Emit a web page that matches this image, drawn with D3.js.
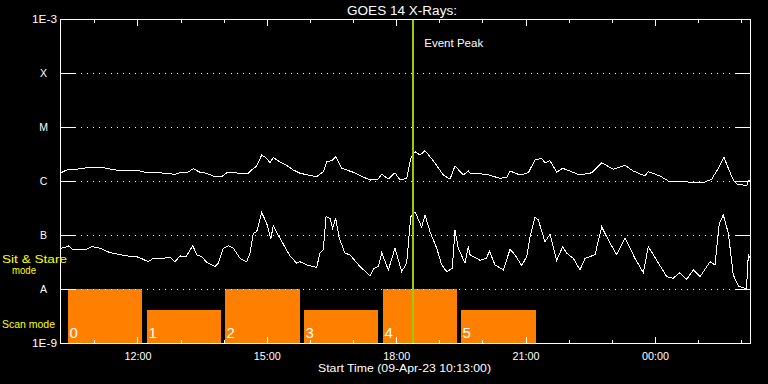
<!DOCTYPE html>
<html><head><meta charset="utf-8">
<script src="https://cdn.jsdelivr.net/npm/d3@7"></script>
<style>
html,body{margin:0;padding:0;background:#000;}
svg{display:block;}
text{font-family:"Liberation Sans",Arial,sans-serif;}
line,rect,path{shape-rendering:crispEdges;}
</style></head>
<body>
<svg id="chart" width="768" height="384"></svg>
<script>
// ---- data ----
const startTime = Date.UTC(2023, 3, 9, 10, 13, 0);
const durationHours = 16;
const eventPeakHour = 8.19;

// long channel (1-8 A), hours since start, flux W/m^2
const longHours = [0.000,0.155,0.387,0.696,0.967,1.275,1.855,2.010,2.319,2.667,2.783,2.938,3.091,3.246,3.402,3.594,3.750,3.865,4.019,4.213,4.367,4.445,4.561,4.677,4.793,4.870,4.946,5.062,5.257,5.410,5.565,5.952,6.106,6.184,6.300,6.393,6.532,6.801,7.188,7.381,7.460,7.613,7.768,7.884,8.039,8.132,8.232,8.348,8.464,8.656,8.888,9.043,9.159,9.352,9.468,9.507,9.894,10.203,10.358,10.435,10.667,10.859,11.014,11.170,11.246,11.362,11.518,11.657,12.058,12.329,12.561,12.830,13.101,13.294,13.565,13.642,13.913,14.106,14.532,14.917,15.112,15.265,15.397,15.497,15.613,15.692,15.923,15.961,16.000];
const longFlux = [1.39e-6,1.60e-6,1.65e-6,1.79e-6,1.79e-6,1.60e-6,1.53e-6,1.42e-6,1.42e-6,1.33e-6,1.42e-6,1.41e-6,1.69e-6,1.45e-6,1.39e-6,1.19e-6,1.20e-6,1.42e-6,1.45e-6,1.35e-6,1.39e-6,1.60e-6,1.90e-6,3.03e-6,2.63e-6,2.18e-6,2.75e-6,2.35e-6,1.95e-6,1.60e-6,1.39e-6,1.20e-6,1.49e-6,2.28e-6,2.38e-6,2.82e-6,1.72e-6,1.45e-6,1.04e-6,1.09e-6,1.33e-6,1.09e-6,1.42e-6,1.04e-6,1.12e-6,2.63e-6,3.49e-6,3.03e-6,3.64e-6,2.38e-6,1.29e-6,1.08e-6,1.90e-6,1.29e-6,1.53e-6,1.39e-6,1.33e-6,1.12e-6,1.17e-6,1.53e-6,1.29e-6,1.42e-6,2.45e-6,2.63e-6,2.18e-6,2.38e-6,1.45e-6,1.72e-6,1.29e-6,1.42e-6,2.18e-6,1.65e-6,1.95e-6,1.53e-6,1.24e-6,1.49e-6,1.24e-6,1.00e-6,0.96e-6,0.93e-6,1.08e-6,1.72e-6,2.75e-6,1.72e-6,1.04e-6,0.88e-6,0.82e-6,1.01e-6,1.04e-6];

// short channel (0.5-4 A)
const shortHours = [0.000,0.116,0.192,0.308,0.580,0.735,0.928,1.159,1.547,1.816,2.048,2.163,2.319,2.551,2.667,2.783,2.922,3.077,3.170,3.286,3.402,3.594,3.671,3.787,3.903,4.019,4.174,4.329,4.406,4.483,4.561,4.677,4.793,4.886,4.946,5.101,5.333,5.489,5.565,5.720,5.952,6.029,6.106,6.168,6.261,6.323,6.393,6.476,6.609,6.725,6.957,7.188,7.281,7.381,7.460,7.613,7.768,7.923,8.039,8.132,8.232,8.387,8.464,8.580,8.735,8.851,8.967,9.097,9.159,9.236,9.391,9.468,9.507,9.739,9.894,9.955,10.087,10.279,10.435,10.551,10.706,10.822,10.899,11.014,11.091,11.246,11.362,11.518,11.657,11.749,11.903,12.058,12.174,12.406,12.561,12.714,12.909,13.101,13.333,13.526,13.642,13.837,14.069,14.222,14.361,14.532,14.685,14.841,15.072,15.188,15.288,15.381,15.497,15.613,15.730,15.884,15.919,15.961,16.000];
const shortFlux = [5.6e-8,5.9e-8,6.3e-8,5.3e-8,5.3e-8,6.1e-8,5.7e-8,4.7e-8,4.1e-8,3.9e-8,3.2e-8,3.7e-8,3.6e-8,3.9e-8,3.2e-8,4.1e-8,3.9e-8,6.4e-8,4.3e-8,4.0e-8,3.1e-8,2.6e-8,3.0e-8,5.7e-8,6.3e-8,5.7e-8,3.7e-8,3.2e-8,4.6e-8,1.08e-7,1.15e-7,2.59e-7,1.65e-7,8.4e-8,1.47e-7,8.7e-8,4.1e-8,3.0e-8,3.2e-8,2.8e-8,2.5e-8,4.7e-8,5.3e-8,2.18e-7,2.04e-7,1.33e-7,2.04e-7,8.7e-8,4.6e-8,4.3e-8,2.6e-8,1.76e-8,2.4e-8,2.6e-8,4.7e-8,2.25e-8,5.7e-8,2.1e-8,3.0e-8,2.18e-7,2.70e-7,1.39e-7,2.35e-7,1.15e-7,5.7e-8,2.8e-8,2.1e-8,2.4e-8,1.24e-7,5.7e-8,3.0e-8,6.1e-8,4.3e-8,3.4e-8,3.7e-8,5.1e-8,2.8e-8,2.25e-8,5.4e-8,4.3e-8,2.7e-8,4.0e-8,9.3e-8,2.13e-7,1.90e-7,7.5e-8,1.03e-7,3.4e-8,6.1e-8,4.6e-8,3.7e-8,2.25e-8,3.7e-8,4.3e-8,1.42e-7,8.1e-8,4.3e-8,8.7e-8,3.7e-8,2.0e-8,6.1e-8,3.4e-8,1.69e-8,1.58e-8,2.0e-8,1.51e-8,2.25e-8,1.69e-8,3.2e-8,2.8e-8,1.65e-7,2.35e-7,1.08e-7,1.82e-8,1.14e-8,1.02e-8,1.0e-8,4.3e-8,3.75e-8];

// observing mode blocks (scan mode)
const blockStart = [0.186,2.017,3.826,5.658,7.490,9.299];
const blockEnd   = [1.901,3.733,5.565,7.374,9.199,11.038];
const blockTop   = [1e-8,4.1e-9,1e-8,4.1e-9,1e-8,4.1e-9];
const blockLabels = ["0","1","2","3","4","5"];

// y-axis level labels
const levelValues = [1e-3,1e-4,1e-5,1e-6,1e-7,1e-8,1e-9];
const levelLabels = ["1E-3","X","M","C","B","A","1E-9"];

// ---- drawing ----
const svg = d3.select("#chart");
const L = 60, R = 750, T = 19, B = 343;
const hourMs = 3600e3;
const x = d3.scaleUtc().domain([new Date(startTime), new Date(startTime + durationHours*hourMs)]).range([L, R]);
const y = d3.scaleLog().domain([1e-9, 1e-3]).range([B, T]);
const tOf = h => new Date(startTime + h*hourMs);

svg.append("rect").attr("width",768).attr("height",384).attr("fill","#000");

// mode blocks
svg.append("g").selectAll("rect").data(blockStart).join("rect")
  .attr("x", (d,i) => x(tOf(d)))
  .attr("width", (d,i) => x(tOf(blockEnd[i])) - x(tOf(d)))
  .attr("y", (d,i) => y(blockTop[i]))
  .attr("height", (d,i) => B - y(blockTop[i]))
  .attr("fill", "#ff8000");
svg.append("g").selectAll("text").data(blockLabels).join("text")
  .attr("x", (d,i) => x(tOf(blockStart[i])) + 1.5)
  .attr("y", B - 5)
  .attr("fill", "#fff").attr("font-size", 15)
  .text(d => d);

// level lines (dotted) + solid end ticks
const inner = levelValues.slice(1, -1);
svg.append("g").selectAll("line").data(inner).join("line")
  .attr("x1", L + 15).attr("x2", R - 14)
  .attr("y1", d => Math.round(y(d)) + 0.5).attr("y2", d => Math.round(y(d)) + 0.5)
  .attr("stroke", "#fff").attr("stroke-width", 1).attr("stroke-dasharray", "1,5");
svg.append("g").selectAll("line").data(inner).join("line")
  .attr("x1", L).attr("x2", L + 15)
  .attr("y1", d => Math.round(y(d)) + 0.5).attr("y2", d => Math.round(y(d)) + 0.5)
  .attr("stroke", "#fff");
svg.append("g").selectAll("line").data(inner).join("line")
  .attr("x1", R - 14).attr("x2", R)
  .attr("y1", d => Math.round(y(d)) + 0.5).attr("y2", d => Math.round(y(d)) + 0.5)
  .attr("stroke", "#fff");

// curves
const line = d3.line().x(d => x(tOf(d[0]))).y(d => y(d[1]));
svg.append("path").datum(longHours.map((h,i) => [h, longFlux[i]]))
  .attr("d", line).attr("fill","none").attr("stroke","#fff").attr("stroke-width",1);
svg.append("path").datum(shortHours.map((h,i) => [h, shortFlux[i]]))
  .attr("d", line).attr("fill","none").attr("stroke","#fff").attr("stroke-width",1);

// event peak
const ex = x(tOf(eventPeakHour));
svg.append("line").attr("x1", ex).attr("x2", ex).attr("y1", T).attr("y2", B)
  .attr("stroke", "#9ccc00").attr("stroke-width", 2);
svg.append("text").attr("x", ex + 11).attr("y", 47).attr("fill","#fff")
  .attr("font-size", 11).attr("textLength", 59).attr("lengthAdjust","spacingAndGlyphs")
  .text("Event Peak");

// frame
svg.append("rect").attr("x", L + 0.5).attr("y", T + 0.5).attr("width", R - L).attr("height", B - T)
  .attr("fill","none").attr("stroke","#fff").attr("stroke-width",1);

// time axes
const major = d3.utcHour.every(3);
const minor = d3.utcHour.every(1);
const fmt = d3.utcFormat("%H:%M");
const axB = svg.append("g").attr("transform", `translate(0.5,${B + 0.5})`)
  .call(d3.axisBottom(x).ticks(major).tickSize(-7).tickPadding(9).tickFormat(fmt));
axB.select(".domain").remove();
axB.selectAll("line").attr("stroke","#fff");
axB.selectAll("text").attr("fill","#fff").attr("font-size",10.5)
  .attr("font-family","Liberation Sans, Arial, sans-serif")
  .attr("textLength",27).attr("lengthAdjust","spacingAndGlyphs");
const axBm = svg.append("g").attr("transform", `translate(0.5,${B + 0.5})`)
  .call(d3.axisBottom(x).ticks(minor).tickSize(-4).tickFormat(""));
axBm.select(".domain").remove();
axBm.selectAll("line").attr("stroke","#fff");
const axT = svg.append("g").attr("transform", `translate(0.5,${T + 0.5})`)
  .call(d3.axisTop(x).ticks(major).tickSize(-6).tickFormat(""));
axT.select(".domain").remove();
axT.selectAll("line").attr("stroke","#fff");
const axTm = svg.append("g").attr("transform", `translate(0.5,${T + 0.5})`)
  .call(d3.axisTop(x).ticks(minor).tickSize(-3).tickFormat(""));
axTm.select(".domain").remove();
axTm.selectAll("line").attr("stroke","#fff");

// y labels
svg.append("g").selectAll("text").data(levelLabels).join("text")
  .attr("x", (d,i) => (i === 0 || i === levelLabels.length - 1) ? 57 : 43.5)
  .attr("y", (d,i) => y(levelValues[i]) + 4)
  .attr("text-anchor", (d,i) => (i === 0 || i === levelLabels.length - 1) ? "end" : "middle")
  .attr("fill","#fff").attr("font-size", 10.5)
  .each(function(d,i){ if (d.length > 1) d3.select(this).attr("textLength", 25).attr("lengthAdjust","spacingAndGlyphs"); })
  .text(d => d);

// mode labels
const yel = "#ffff00";
svg.append("text").attr("x",2).attr("y",263).attr("fill",yel).attr("font-size",11.5)
  .attr("textLength",65).attr("lengthAdjust","spacingAndGlyphs").text("Sit & Stare");
svg.append("text").attr("x",12).attr("y",274).attr("fill",yel).attr("font-size",11.5)
  .attr("textLength",24).attr("lengthAdjust","spacingAndGlyphs").text("mode");
svg.append("text").attr("x",2).attr("y",328).attr("fill",yel).attr("font-size",11.5)
  .attr("textLength",53).attr("lengthAdjust","spacingAndGlyphs").text("Scan mode");

// title and x label
svg.append("text").attr("x",402).attr("y",14.5).attr("text-anchor","middle").attr("fill","#fff")
  .attr("font-size",12.5).attr("textLength",110).attr("lengthAdjust","spacingAndGlyphs")
  .text("GOES 14 X-Rays:");
svg.append("text").attr("x",404.5).attr("y",372).attr("text-anchor","middle").attr("fill","#fff")
  .attr("font-size",11).attr("textLength",173).attr("lengthAdjust","spacingAndGlyphs")
  .text("Start Time (09-Apr-23 10:13:00)");
</script>
</body></html>
